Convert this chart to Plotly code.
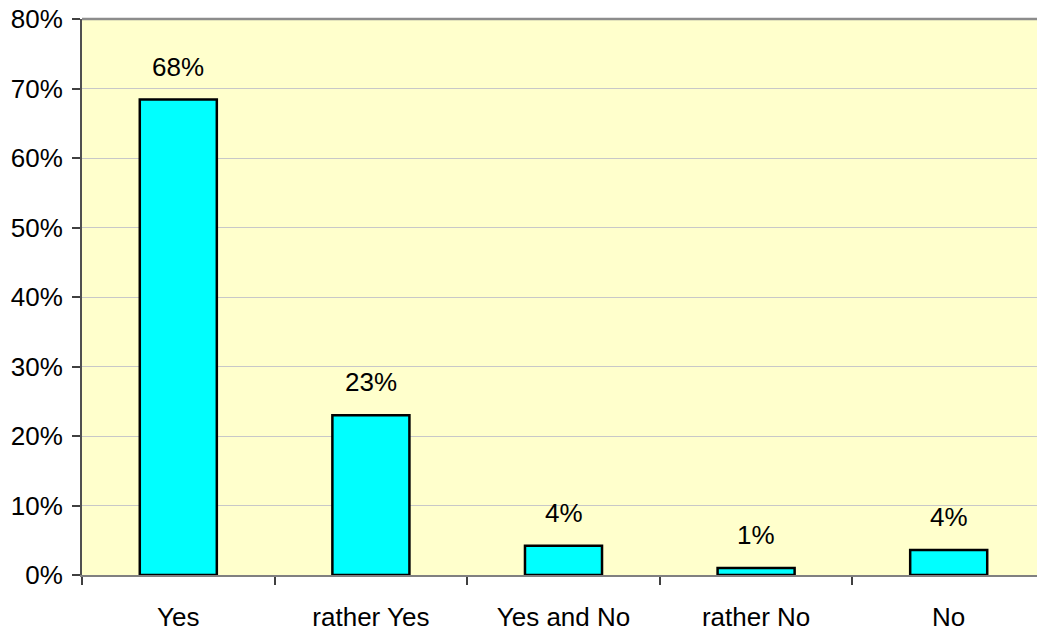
import plotly.graph_objects as go

categories = ["Yes", "rather Yes", "Yes and No", "rather No", "No"]
values = [68.4, 23.0, 4.2, 1.0, 3.6]
labels = ["68%", "23%", "4%", "1%", "4%"]
y_ticks = [0, 10, 20, 30, 40, 50, 60, 70, 80]
y_tick_text = [f"{v}%" for v in y_ticks]

FONT = "Liberation Sans, Arial, sans-serif"
FS = 26

fig = go.Figure()
fig.add_trace(go.Bar(
    x=categories, y=values,
    marker=dict(color="#00FFFF", line=dict(color="#000000", width=2.5)),
    width=0.4,
    hoverinfo="skip",
))

for c, v, t in zip(categories, values, labels):
    fig.add_annotation(x=c, y=v, text=t, showarrow=False, yanchor="bottom",
                       yshift=16, font=dict(family=FONT, size=FS, color="#000000"))

# page body has an 8px margin; compensate so the plot area sits where the reference has it
fig.update_layout(
    width=1037, height=622,
    margin=dict(l=74, r=0, t=11, b=55, autoexpand=False),
    paper_bgcolor="#FFFFFF",
    plot_bgcolor="#FFFFCC",
    showlegend=False,
    font=dict(family=FONT, size=FS, color="#000000"),
)
fig.update_xaxes(
    type="category",
    tickson="boundaries",
    ticks="outside", ticklen=8, tickwidth=1.5, tickcolor="#404040",
    showline=True, linecolor="#808080", linewidth=2,
    showgrid=False,
    automargin=False,
    tickfont=dict(family=FONT, size=FS, color="#000000"),
    ticklabelstandoff=18,
    ticklabeloverflow="allow",
)
fig.update_yaxes(
    range=[0, 80],
    tickvals=y_ticks, ticktext=y_tick_text,
    ticks="outside", ticklen=8, tickwidth=1.5, tickcolor="#404040",
    showline=True, linecolor="#505050", linewidth=2,
    showgrid=True, gridcolor="#C8C8C8", gridwidth=1,
    zeroline=False,
    automargin=False,
    tickfont=dict(family=FONT, size=FS, color="#000000"),
    ticklabelstandoff=4,
    ticklabeloverflow="allow",
)
fig.add_shape(type="line", xref="paper", yref="paper", x0=0, x1=1, y0=1, y1=1,
              line=dict(color="#8C8C8C", width=2.5))

fig.write_html("out.html")
